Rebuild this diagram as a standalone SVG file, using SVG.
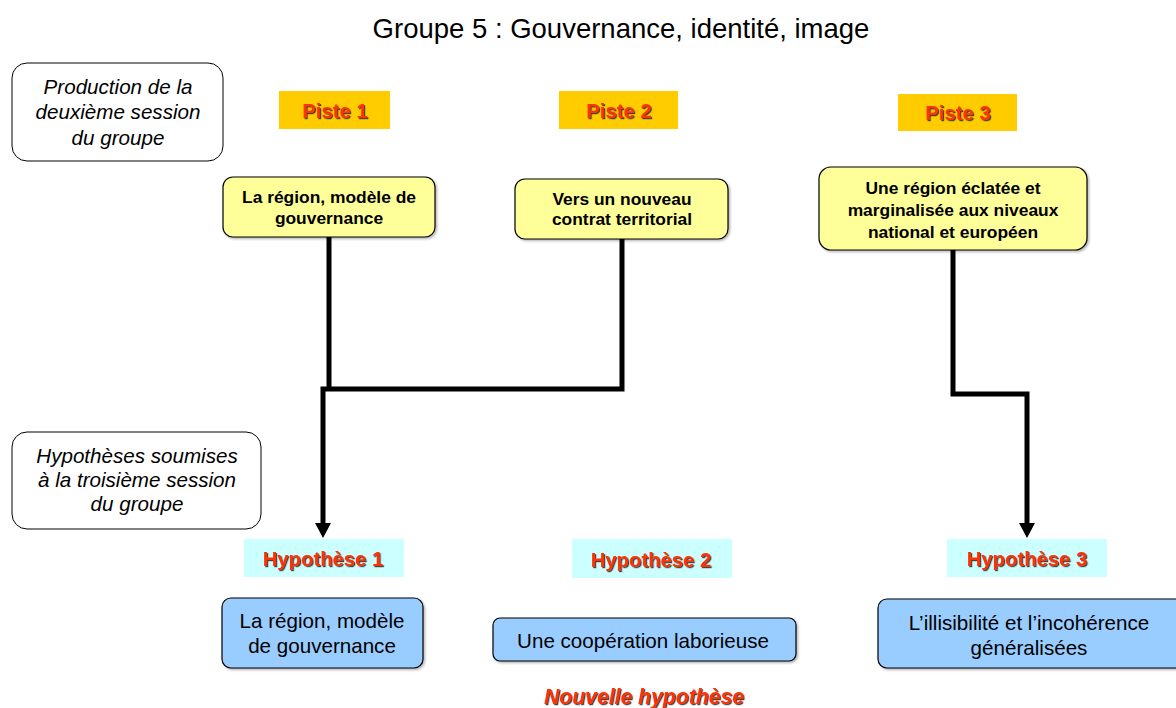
<svg xmlns="http://www.w3.org/2000/svg" width="1176" height="708" viewBox="0 0 1176 708">
<style>
text{font-family:"Liberation Sans",Arial,sans-serif;text-anchor:middle}
.title{font-size:27.5px;fill:#000}
.note{fill:#fff;stroke:#000;stroke-width:1}
.noteT{font-size:20.6px;font-style:italic;fill:#000}
.piste{fill:#FFCC00}
.hyp{fill:#CCFFFF}
.lbl{font-size:20.3px;font-weight:bold;fill:#FF3300;filter:url(#ts)}
.yel{fill:#FFFF99;stroke:#000;stroke-width:1.2;filter:url(#bs)}
.yelT{font-size:17.4px;font-weight:bold;fill:#000}
.blue{fill:#99CCFF;stroke:#000;stroke-width:1.2;filter:url(#bs)}
.blueT{font-size:20.6px;fill:#000}
.con{fill:none;stroke:#000;stroke-width:5;stroke-linejoin:miter}
.nouv{font-size:21.2px;font-weight:bold;font-style:italic;fill:#FF3300;filter:url(#ts)}
</style>
<defs>
<filter id="ts" x="-10%" y="-30%" width="120%" height="160%">
<feDropShadow dx="1.2" dy="1.2" stdDeviation="0.3" flood-color="#333" flood-opacity="0.9"/>
</filter>
<filter id="bs" x="-5%" y="-10%" width="110%" height="120%">
<feDropShadow dx="1.5" dy="1.5" stdDeviation="0.8" flood-color="#000" flood-opacity="0.3"/>
</filter>
<marker id="arr" viewBox="0 0 15 16" refX="0" refY="8" markerWidth="15" markerHeight="16" markerUnits="userSpaceOnUse" orient="auto">
<polygon points="0,0 15,8 0,16" fill="#000"/>
</marker>
</defs>
<rect width="1176" height="708" fill="#fff"/>
<text class="title" x="621" y="38">Groupe 5 : Gouvernance, identité, image</text>

<g id="note1">
<rect class="note" x="12" y="63" width="211" height="98" rx="15"/>
<text class="noteT" x="118" y="94">Production de la</text>
<text class="noteT" x="118" y="119">deuxième session</text>
<text class="noteT" x="118" y="145">du groupe</text>
</g>
<g id="note2">
<rect class="note" x="12" y="432" width="249" height="97" rx="15"/>
<text class="noteT" x="137" y="463">Hypothèses soumises</text>
<text class="noteT" x="137" y="487">à la troisième session</text>
<text class="noteT" x="137" y="511">du groupe</text>
</g>

<g id="connectors">
<path class="con" d="M329,237 V391"/>
<path class="con" d="M622,239 V389 H323 V523" marker-end="url(#arr)"/>
<path class="con" d="M953,250 V394 H1027 V523" marker-end="url(#arr)"/>
</g>

<g id="piste1">
<rect class="piste" x="279" y="91" width="111" height="38"/>
<text class="lbl" x="335" y="118">Piste 1</text>
</g>
<g id="piste2">
<rect class="piste" x="559" y="91" width="119" height="38"/>
<text class="lbl" x="619" y="118">Piste 2</text>
</g>
<g id="piste3">
<rect class="piste" x="898" y="94" width="119" height="37"/>
<text class="lbl" x="958" y="120">Piste 3</text>
</g>

<g id="box1">
<rect class="yel" x="223" y="177" width="212" height="60" rx="10"/>
<text class="yelT" x="329" y="203">La région, modèle de</text>
<text class="yelT" x="329" y="224">gouvernance</text>
</g>
<g id="box2">
<rect class="yel" x="515" y="179" width="213" height="60" rx="10"/>
<text class="yelT" x="622" y="205">Vers un nouveau</text>
<text class="yelT" x="622" y="225">contrat territorial</text>
</g>
<g id="box3">
<rect class="yel" x="819" y="167" width="268" height="83" rx="12"/>
<text class="yelT" x="953" y="194">Une région éclatée et</text>
<text class="yelT" x="953" y="216">marginalisée aux niveaux</text>
<text class="yelT" x="953" y="238">national et européen</text>
</g>

<g id="hyp1">
<rect class="hyp" x="244" y="539" width="160" height="38"/>
<text class="lbl" x="323" y="566">Hypothèse 1</text>
</g>
<g id="hyp2">
<rect class="hyp" x="572" y="539" width="160" height="39"/>
<text class="lbl" x="651" y="567">Hypothèse 2</text>
</g>
<g id="hyp3">
<rect class="hyp" x="947" y="539" width="160" height="38"/>
<text class="lbl" x="1027" y="566">Hypothèse 3</text>
</g>

<g id="res1">
<rect class="blue" x="222" y="598" width="201" height="70" rx="9"/>
<text class="blueT" x="322" y="628">La région, modèle</text>
<text class="blueT" x="322" y="653">de gouvernance</text>
</g>
<g id="res2">
<rect class="blue" x="493" y="618" width="303" height="43" rx="7"/>
<text class="blueT" x="643" y="648">Une coopération laborieuse</text>
</g>
<g id="res3">
<rect class="blue" x="878" y="599" width="310" height="69" rx="9"/>
<text class="blueT" x="1029" y="630">L’illisibilité et l’incohérence</text>
<text class="blueT" x="1029" y="655">généralisées</text>
</g>

<text class="nouv" x="644" y="704">Nouvelle hypothèse</text>
</svg>
